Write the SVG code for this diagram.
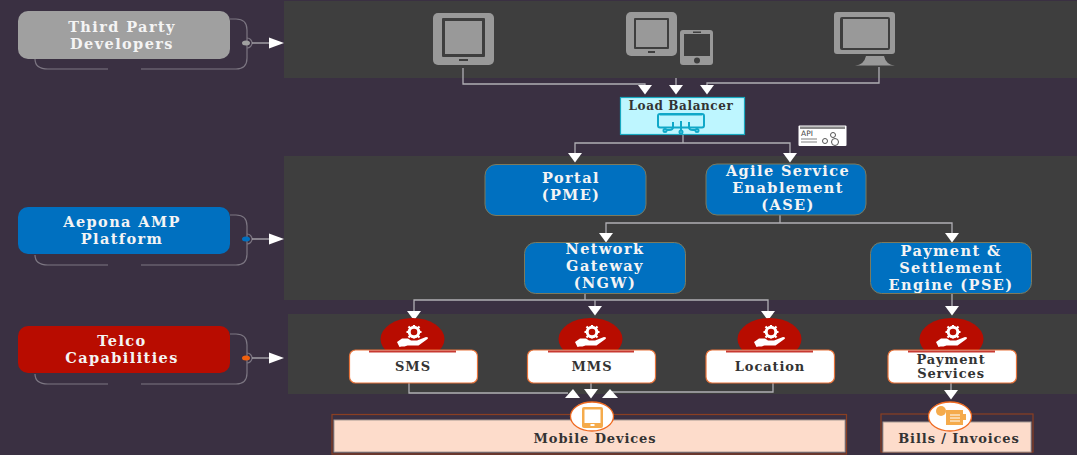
<svg xmlns="http://www.w3.org/2000/svg" xmlns:xlink="http://www.w3.org/1999/xlink" width="1077" height="455" viewBox="0 0 1077 455">
<style>
text{font-family:"DejaVu Serif","Liberation Serif",serif;font-weight:700;text-anchor:middle}
.w{fill:#f4f4f4;font-size:14.500px;letter-spacing:1.400px}
.d{fill:#333;font-size:13px;letter-spacing:.9px}
.panel{fill:#3e3e3e}
.blue{fill:#0070c0;stroke:#7d7a5c;stroke-width:1}
.cap{fill:#fff;stroke:#e8733a;stroke-width:1.2}
.bar{fill:#c73a32}
.red{fill:#b80c00}
.gray{fill:#999}
.dark{fill:#3e3e3e}
.conn{fill:none;stroke:#b0aeb4;stroke-width:1.3}
.br{fill:none;stroke:#7c7682;stroke-width:1.2}
.tri{fill:#fff}
.out{fill:none;stroke:#8a3f22;stroke-width:1.2}
.in{fill:#fddccb;stroke:#a89a94;stroke-width:1}
.ring{fill:#fff;stroke:#f06a20;stroke-width:1.3}
.or{fill:#f5ab4c}
</style>
<defs>
<path id="ah" class="tri" d="M-7 0H7L0 9.500Z"/>
<path id="ar" class="tri" d="M0 -5.500L15 0L0 5.500Z"/>
<g id="bracket">
<path class="br" d="M230 19H236Q247 19 247 30V58Q247 69 236 69H141M108 69H48Q35 69 35 59"/>
<path class="br" d="M247 38A5 5 0 0 1 247 48"/>
<path class="conn" d="M252 43H270"/>
<use href="#ar" x="269" y="43"/>
</g>
<g id="care">
<ellipse class="red" cx="0.500" cy="339" rx="32" ry="21"/>
<g fill="#fff">
<circle cx="2" cy="332" r="4.800" fill="none" stroke="#fff" stroke-width="3"/>
<path d="M2 325v2.500M2 336.500v2M-5.500 332h2.500M7 332h2.500M-3.500 326.500l2 2M5.500 335.500l2 2M-3.500 337.500l2-2M5.500 328.500l2-2" stroke="#fff" stroke-width="2.200"/>
<path d="M-15 342l5-3.500h6l3 2h6l9-3.500q3 0 1.500 2l-9 6.500h-11l-3 1h-3l-2 .5z"/>
</g>
</g>
</defs>
<rect width="1077" height="455" fill="#3a3042"/>
<rect class="panel" x="284" y="1" width="793" height="77"/>
<rect class="panel" x="284" y="156" width="793" height="144"/>
<rect class="panel" x="288" y="314" width="789" height="80"/>

<g id="connectors">
<path class="conn" d="M463 68V84H645V88M676 78V88M879 67V83H707V88"/>
<path class="conn" d="M683 134V143M575 156V143H790V156"/>
<path class="conn" d="M780 215V223M606 236V223H952V236"/>
<path class="conn" d="M585 293V300M414 312V300H768V312M595 300V310M952 293V308"/>
<path class="conn" d="M409 383V393H568M591 383V392M773 383V392H612M951 383V392"/>
<use href="#ah" x="645" y="85"/><use href="#ah" x="676" y="85"/><use href="#ah" x="707" y="85"/>
<use href="#ah" x="575" y="153"/><use href="#ah" x="790" y="153"/>
<use href="#ah" x="606" y="233"/><use href="#ah" x="952" y="233"/>
<use href="#ah" x="414" y="311"/><use href="#ah" x="595" y="306"/><use href="#ah" x="768" y="311"/><use href="#ah" x="952" y="306"/>
<path class="tri" d="M565 398H580L573 389Z"/><use href="#ah" x="591" y="389"/><path class="tri" d="M602 398H618L610 389Z"/>
<use href="#ah" x="951" y="390"/>
</g>

<g id="third-party">
<use href="#bracket"/>
<rect x="18" y="11" width="212" height="48" rx="10" fill="#a0a0a0"/>
<ellipse cx="246" cy="43" rx="4" ry="2.500" fill="#a0a0a0"/>
<text class="w" x="122" y="32">Third Party</text><text class="w" x="122" y="49">Developers</text>
</g>
<g id="aepona">
<use href="#bracket" y="196"/>
<rect x="18" y="207" width="212" height="47" rx="10" fill="#0070c0"/>
<ellipse cx="246" cy="239" rx="4" ry="2.500" fill="#0070c0"/>
<text class="w" x="122" y="227">Aepona AMP</text><text class="w" x="122" y="244">Platform</text>
</g>
<g id="telco">
<use href="#bracket" y="315"/>
<rect x="18" y="326" width="212" height="47" rx="10" fill="#b80c00"/>
<ellipse cx="246" cy="358" rx="4" ry="2.500" fill="#f0600f"/>
<text class="w" x="122" y="346">Telco</text><text class="w" x="122" y="363">Capabilities</text>
</g>

<g id="device-tablet">
<rect class="gray" x="433" y="13" width="61" height="52" rx="5"/>
<rect class="dark" x="442" y="18" width="43" height="39" rx="1"/>
<rect class="gray" x="445" y="21" width="37" height="33"/>
<rect class="dark" x="459" y="59" width="9" height="2"/>
</g>
<g id="device-tablet-phone">
<rect class="gray" x="626" y="12" width="51" height="44" rx="5"/>
<rect class="dark" x="634" y="18" width="35" height="31" rx="1"/>
<rect class="gray" x="636" y="20" width="31" height="27"/>
<rect class="dark" x="648" y="51" width="7" height="2"/>
<rect class="gray" x="680" y="30" width="33" height="35" rx="3"/>
<rect class="dark" x="684" y="34" width="26" height="22"/>
<rect class="dark" x="693" y="31.500" width="8" height="1.500"/>
<circle class="dark" cx="697" cy="60.500" r="3"/>
</g>
<g id="device-monitor">
<rect class="gray" x="834" y="12" width="61" height="42" rx="3"/>
<rect class="dark" x="840" y="17" width="50" height="33" rx="2"/>
<rect class="gray" x="843" y="19" width="45" height="29"/>
<path class="gray" d="M855 65.500Q864 65 866 56H884Q886 65 895 65.500Z"/>
</g>

<g id="load-balancer">
<rect x="620.500" y="97.500" width="124" height="37" fill="#bef6ff" stroke="#17a8c0" stroke-width="1.200"/>
<text x="681" y="110" class="d" style="font-size:12px;letter-spacing:.6px">Load Balancer</text>
<g fill="none" stroke="#10a8c8" stroke-width="2">
<rect x="658" y="114" width="46" height="13.500" rx="2"/>
<path d="M681 121V131M673 122V127Q673 130 669 130H666M689 122V127Q689 130 693 130H696"/>
<circle cx="665" cy="130.500" r="1.500"/><circle cx="697" cy="130.500" r="1.500"/><circle cx="681" cy="132" r="1.500"/>
</g>
<rect x="660" y="113" width="42" height="2.500" fill="#10a8c8"/>
</g>
<g id="api-icon">
<rect x="798.500" y="125.500" width="48" height="20.500" rx="1" fill="#fff"/>
<rect x="800" y="126.500" width="45" height="2.500" fill="#888"/>
<text x="807" y="136" style="font-family:'DejaVu Sans',sans-serif;font-weight:400;font-size:7.500px" fill="#444">API</text>
<path d="M801 139H817M801 142H817" stroke="#aaa" stroke-width="1.500"/>
<circle cx="835" cy="142" r="3.500" fill="none" stroke="#555"/><circle cx="825" cy="141" r="2.500" fill="none" stroke="#555"/><circle cx="833" cy="135" r="2.500" fill="none" stroke="#555"/>
</g>

<g id="portal">
<rect class="blue" x="485" y="164.500" width="161" height="51" rx="11"/>
<text class="w" x="571" y="183">Portal</text><text class="w" x="571" y="200">(PME)</text>
</g>
<g id="ase">
<rect class="blue" x="706" y="164" width="160" height="51" rx="11"/>
<text class="w" x="788" y="176">Agile Service</text><text class="w" x="788" y="193">Enablement</text><text class="w" x="788" y="210">(ASE)</text>
</g>
<g id="ngw">
<rect class="blue" x="524.500" y="242.500" width="161" height="51" rx="11"/>
<text class="w" x="605" y="254">Network</text><text class="w" x="605" y="271">Gateway</text><text class="w" x="605" y="288">(NGW)</text>
</g>
<g id="pse">
<rect class="blue" x="870.500" y="242.500" width="161" height="51" rx="11"/>
<text class="w" x="951" y="256">Payment &amp;</text><text class="w" x="951" y="273">Settlement</text><text class="w" x="951" y="290">Engine (PSE)</text>
</g>

<g id="sms">
<use href="#care" x="412"/>
<rect class="cap" x="349.500" y="350" width="128" height="33" rx="6"/>
<rect class="bar" x="369" y="350.500" width="87" height="2"/>
<text class="d" x="413" y="371">SMS</text>
</g>
<g id="mms">
<use href="#care" x="590"/>
<rect class="cap" x="527.500" y="350" width="128" height="33" rx="6"/>
<rect class="bar" x="548" y="350.500" width="86" height="2"/>
<text class="d" x="592" y="371">MMS</text>
</g>
<g id="location">
<use href="#care" x="769"/>
<rect class="cap" x="706" y="350" width="128.500" height="33" rx="6"/>
<rect class="bar" x="726" y="350.500" width="87" height="2"/>
<text class="d" x="770" y="371">Location</text>
</g>
<g id="payment-services">
<use href="#care" x="951"/>
<rect class="cap" x="888" y="350" width="128.500" height="33" rx="6"/>
<rect class="bar" x="908" y="350.500" width="87" height="2"/>
<text class="d" x="951" y="364">Payment</text><text class="d" x="951" y="378">Services</text>
</g>

<g id="mobile-devices">
<rect class="out" x="332" y="414.500" width="514.500" height="39.500"/>
<rect class="in" x="334" y="420" width="511" height="32"/>
<ellipse class="ring" cx="592" cy="416.500" rx="21.500" ry="14.500"/>
<rect class="or" x="582" y="407" width="21" height="21" rx="2"/>
<rect x="584.500" y="409.500" width="16" height="13.500" fill="#fff"/>
<rect x="590.500" y="424" width="4" height="2" fill="#fff"/>
<text class="d" x="595" y="443">Mobile Devices</text>
</g>
<g id="bills">
<rect class="out" x="881" y="414" width="152" height="38"/>
<rect class="in" x="883" y="422" width="148" height="30"/>
<ellipse class="ring" cx="950" cy="416.500" rx="21.500" ry="14.500"/>
<circle class="or" cx="941" cy="411" r="5"/>
<path class="or" d="M946 410H963V414H966V420H963V425H946Z"/>
<path d="M950 415H960M950 418H960M950 421H960" stroke="#fff" stroke-width="1"/>
<text class="d" x="959" y="443">Bills / Invoices</text>
</g>
</svg>
